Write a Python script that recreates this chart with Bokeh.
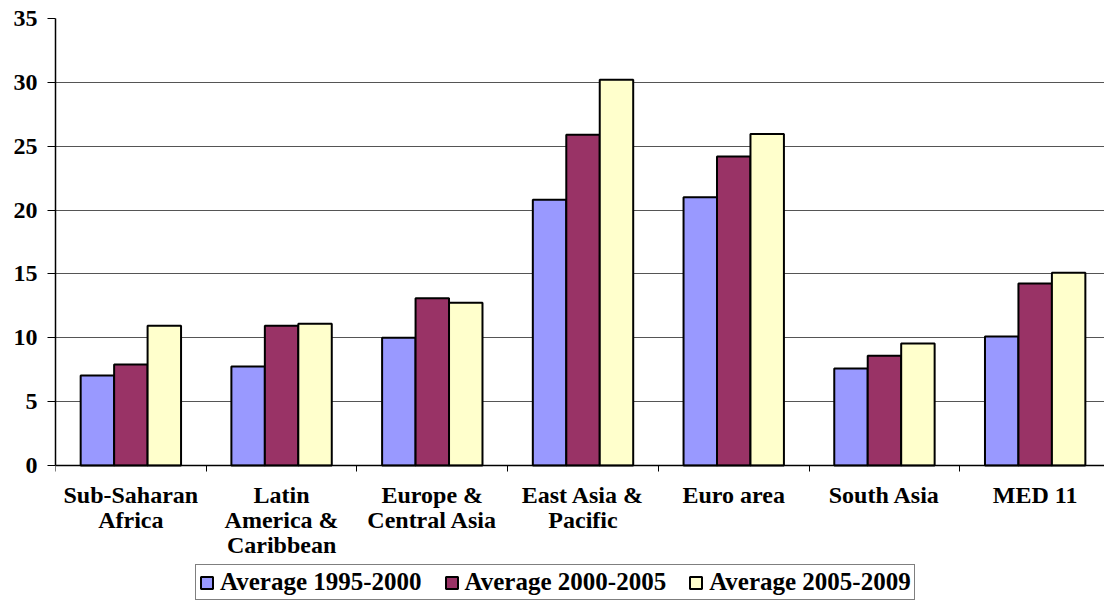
from bokeh.plotting import figure
from bokeh.models import FixedTicker, Legend, LegendItem, Range1d
from bokeh.embed import file_html
from bokeh.resources import INLINE

categories = ["Sub-Saharan\nAfrica", "Latin\nAmerica &\nCaribbean", "Europe &\nCentral Asia",
              "East Asia &\nPacific", "Euro area", "South Asia", "MED 11"]
series_names = ["Average 1995-2000", "Average 2000-2005", "Average 2005-2009"]
avg_1995_2000 = [7.05, 7.75, 10.0, 20.8, 21.0, 7.6, 10.1]
avg_2000_2005 = [7.9, 10.95, 13.1, 25.9, 24.2, 8.6, 14.25]
avg_2005_2009 = [10.95, 11.1, 12.75, 30.2, 25.95, 9.55, 15.1]
colors = ["#9999FF", "#993366", "#FFFFCC"]

FONT = "Liberation Serif"

# frame: 447 px for 35 units; extend below 0 to hold labels and legend
px_per_unit = 447 / 35.0
below_px = 138
p = figure(output_backend="svg", toolbar_location=None,
           frame_width=1049, frame_height=447 + below_px,
           min_border_left=55, min_border_top=18, min_border_right=0, min_border_bottom=0,
           x_range=Range1d(0, 6.96), y_range=Range1d(-below_px / px_per_unit, 35))
p.outline_line_color = None
p.background_fill_color = "white"
p.border_fill_color = "white"

bw = 0.222
series = [avg_1995_2000, avg_2000_2005, avg_2005_2009]
renderers = []
for i, vals in enumerate(series):
    xs = [k + 0.5 + (i - 1) * bw for k in range(len(categories))]
    r = p.vbar(x=xs, top=vals, width=bw, bottom=0, fill_color=colors[i],
               line_color="black", line_width=2)
    renderers.append(r)

# x axis, drawn at y = 0
centers = [k + 0.5 for k in range(len(categories))]
p.xaxis.fixed_location = 0
p.xaxis.ticker = FixedTicker(ticks=centers, minor_ticks=list(range(0, 8)))
p.xaxis.major_label_overrides = {c: lab for c, lab in zip(centers, categories)}
p.xaxis.major_tick_out = 0
p.xaxis.major_tick_in = 0
p.xaxis.minor_tick_out = 6
p.xaxis.minor_tick_in = 0
p.xaxis.minor_tick_line_color = "black"
p.xaxis.axis_line_color = "black"
p.xaxis.axis_line_width = 1.5
p.xaxis.axis_label = None
p.xaxis.major_label_text_font = FONT
p.xaxis.major_label_text_font_style = "bold"
p.xaxis.major_label_text_font_size = "24px"
p.xaxis.major_label_text_color = "black"
p.xaxis.major_label_standoff = 10
p.xaxis.major_label_text_line_height = 0.97

# y axis
p.yaxis.ticker = FixedTicker(ticks=[0, 5, 10, 15, 20, 25, 30, 35])
p.yaxis.bounds = (0, 35)
p.yaxis.major_tick_out = 8
p.yaxis.major_tick_in = 0
p.yaxis.minor_tick_out = 0
p.yaxis.minor_tick_in = 0
p.yaxis.axis_line_color = "black"
p.yaxis.axis_line_width = 1.5
p.yaxis.major_tick_line_color = "black"
p.yaxis.major_label_text_font = FONT
p.yaxis.major_label_text_font_style = "bold"
p.yaxis.major_label_text_font_size = "24px"
p.yaxis.major_label_text_color = "black"
p.yaxis.major_label_standoff = 10

p.xgrid.grid_line_color = None
p.ygrid.grid_line_color = "#555555"
p.ygrid.grid_line_width = 1.2
p.ygrid.ticker = FixedTicker(ticks=[5, 10, 15, 20, 25, 30, 35])

legend = Legend(items=[LegendItem(label=n, renderers=[r]) for n, r in zip(series_names, renderers)],
                orientation="horizontal", location=(140, 3),
                label_text_font=FONT, label_text_font_style="bold",
                label_text_font_size="25px", label_text_color="black",
                border_line_color="black", border_line_width=1.2,
                glyph_width=15, glyph_height=15, spacing=22, label_standoff=6,
                padding=3, margin=0, label_height=22,
                background_fill_color="white", background_fill_alpha=1.0)
p.add_layout(legend, "center")

open("out.html", "w").write(file_html(p, INLINE))
